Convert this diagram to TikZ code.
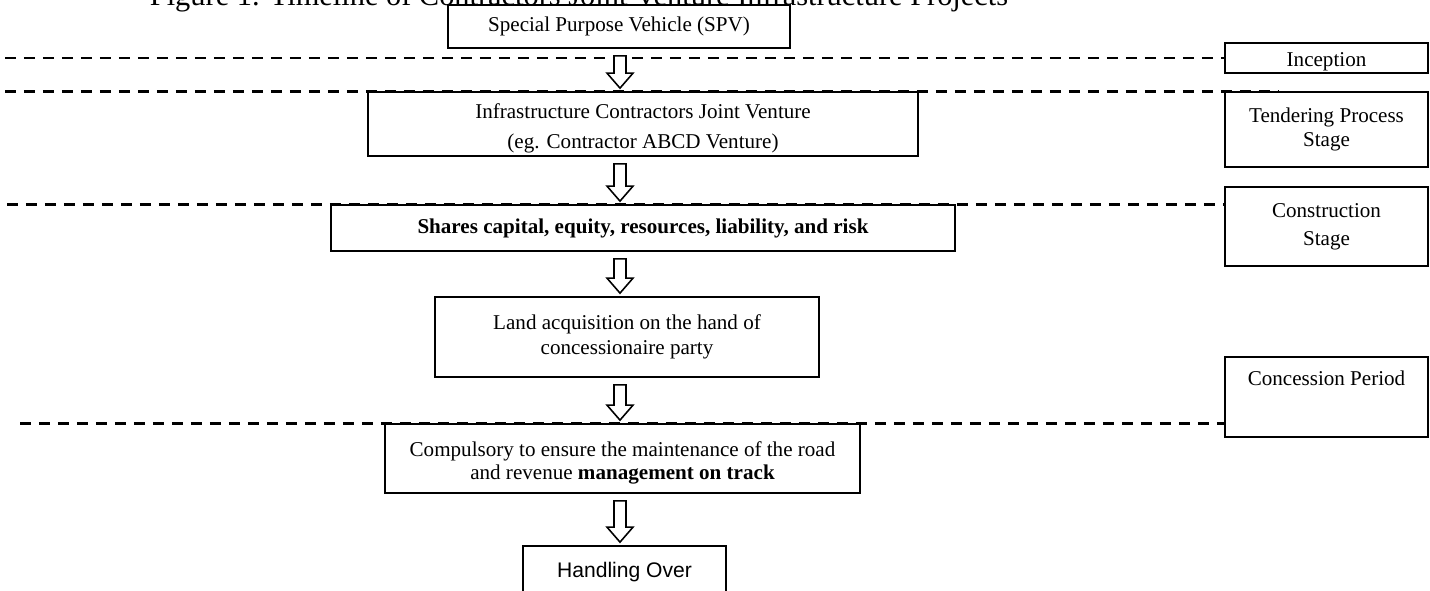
\documentclass[tikz,border=0pt]{standalone}
\usepackage{fontspec}
\setmainfont{Liberation Serif}
\setsansfont{Liberation Sans}
\usetikzlibrary{calc}
\tikzset{
  flowbox/.style={rectangle, draw=black, line width=1.0pt, fill=white,
                  align=center, inner sep=0pt, font=\fontsize{12}{14}\selectfont},
  stagebox/.style={flowbox, minimum width=4.06cm},
  divider/.style={draw=black, line width=1.6pt, dash pattern=on 0.22cm off 0.16cm},
  hollowarr/.style={draw=black, line width=0.9pt, fill=white, line join=miter},
}

\begin{document}
\begin{tikzpicture}[x=0.02cm, y=-0.02cm]
  \useasboundingbox (0,0) rectangle (1430,591);
  \clip (0,0) rectangle (1430,591);
  \coordinate (spine) at (620,0);
  % caption, cut by the top edge
  \node[anchor=base, font=\fontsize{17.3}{20}\selectfont] (title) at (579,6)
    {Figure 1. Timeline of Contractors Joint Venture Infrastructure Projects};
  % main flow
  \node[flowbox, minimum width=6.84cm, minimum height=0.86cm] (spv) at (619,26.5) {Special Purpose Vehicle (SPV)};
  \node[flowbox, minimum width=11.0cm, minimum height=1.28cm, font=\fontsize{12}{17}\selectfont] (jv) at (643,124)
    {\rule{0pt}{13.8pt}Infrastructure Contractors Joint Venture\\(eg. Contractor ABCD Venture)};
  \node[flowbox, minimum width=12.48cm, minimum height=0.92cm, font=\fontsize{12}{14}\selectfont\bfseries] (shares) at (643,228)
    {Shares capital, equity, resources, liability, and risk};
  \node[flowbox, minimum width=7.68cm, minimum height=1.60cm] (land) at (627,337)
    {Land acquisition on the hand of\\concessionaire party};
  \node[flowbox, minimum width=9.50cm, minimum height=1.38cm, font=\fontsize{12}{13}\selectfont] (comp) at (622.5,458.5)
    {\rule{0pt}{13.8pt}Compulsory to ensure the maintenance of the road\\and revenue \textbf{management on track}};
  \node[flowbox, minimum width=4.06cm, minimum height=1.04cm, font=\sffamily\fontsize{12}{14}\selectfont] (hand) at (624.5,572)
    {Handling Over};
  % stages on the right
  \node[stagebox, minimum height=0.60cm] (inc) at (1326.5,58) {\raisebox{-4.8pt}[0pt][0pt]{Inception}};
  \node[stagebox, minimum height=1.50cm] (tend) at (1326.5,129.5) {Tendering Process\\Stage};
  \node[stagebox, minimum height=1.58cm, font=\fontsize{12}{16}\selectfont] (cons) at (1326.5,226.5) {Construction\\Stage};
  \node[stagebox, minimum height=1.60cm] (conc) at (1326.5,397) {\raisebox{6.8pt}[0pt][0pt]{Concession Period}};
  % dashed stage dividers
  \coordinate (m1) at (5,0);
  \coordinate (m2) at (5,0);
  \coordinate (m3) at (7,0);
  \coordinate (m4) at (20,0);
  \draw[divider] (m1 |- inc.west) -- (inc.west);
  \draw[divider] (m2 |- tend.north) -- ($(tend.north west)+(55,0)$);
  \draw[divider] (m3 |- shares.north) -- (cons.west |- shares.north);
  \draw[divider] (m4 |- comp.north) -- (conc.west |- comp.north);
  % hollow arrows
  \foreach \a/\b in {spv/jv, jv/shares, shares/land, land/comp, comp/hand}
    \draw[hollowarr] ($(\a.south -| spine)+(-6,7)$) -- ($(\b.north -| spine)+(-6,-18)$) -- ++(-7,0)
      -- ($(\b.north -| spine)+(0,-3)$) -- ($(\b.north -| spine)+(13,-18)$) -- ++(-7,0)
      -- ($(\a.south -| spine)+(6,7)$) -- cycle;
\end{tikzpicture}
\end{document}
